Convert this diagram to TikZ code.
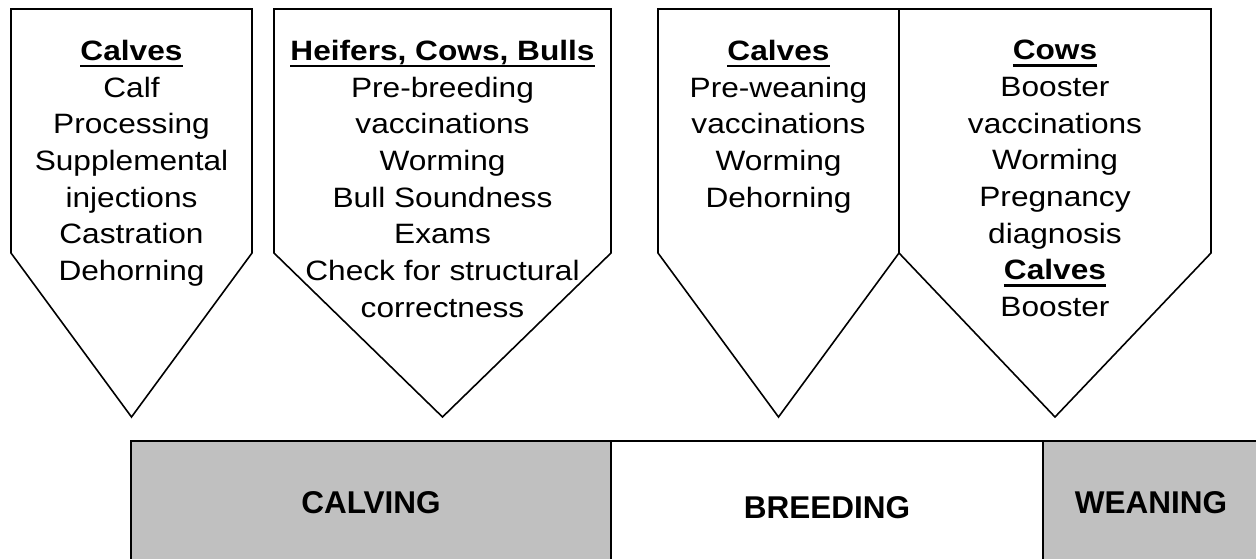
\documentclass[tikz,border=0pt]{standalone}
\usepackage{fontspec}
\setmainfont{Liberation Sans}
\newfontfamily\boxfont{Liberation Sans}[FakeStretch=1.13]
\usetikzlibrary{positioning}
\definecolor{phasegray}{RGB}{192,192,192}

\tikzset{
  pentline/.style={line width=1.6pt, line join=miter},
  tasktext/.style={font=\boxfont\fontsize{28}{36.7}\selectfont, align=center, anchor=north, inner sep=0pt},
  phaselabel/.style={font=\bfseries\fontsize{31.5}{36}\selectfont, anchor=base, inner sep=0pt},
}
% bold heading with a heavy underline
\newcommand{\hdr}[1]{{\bfseries\sbox0{#1}\rlap{\rule[-7pt]{\wd0}{2.6pt}}\usebox0}}

\begin{document}
\begin{tikzpicture}[x=1pt, y=-1pt]
    \useasboundingbox (0,0) rectangle (1256,559);

    % 1. PHASE BAR (cut off at the page edge)
    \fill[phasegray] (131,441) rectangle (611,620);
    \fill[phasegray] (1043,441) rectangle (1280,620);
    \draw[line width=1.6pt] (131,620) -- (131,441) -- (1280,441);
    \draw[line width=1.6pt] (611,441) -- (611,620);
    \draw[line width=1.6pt] (1043,441) -- (1043,620);

    \node[phaselabel] (calving) at (371,513) {CALVING};
    \node[phaselabel] (breeding) at (827,518) {BREEDING};
    \node[phaselabel] (weaning) at (1151,513) {WEANING};

    % 2. POINTED BOXES
    \foreach \l/\r in {11/252, 274/611, 658/899, 899/1211} {
        \pgfmathsetmacro{\c}{(\l+\r)/2}
        \draw[pentline] (\l,9) -- (\r,9) -- (\r,253) -- (\c,417) -- (\l,253) -- cycle;
    }

    % 3. TASK LISTS
    \node[tasktext] (calftasks) at (131.5,40)
        {\hdr{Calves}\\ Calf\\ Processing\\ Supplemental\\ injections\\ Castration\\ Dehorning};
    \node[tasktext] (herdtasks) at (442.5,40)
        {\hdr{Heifers, Cows, Bulls}\\ Pre-breeding\\ vaccinations\\ Worming\\ Bull Soundness\\ Exams\\ Check for structural\\ correctness};
    \node[tasktext] (weantasks) at (778.5,40)
        {\hdr{Calves}\\ Pre-weaning\\ vaccinations\\ Worming\\ Dehorning};
    \node[tasktext] (cowtasks) at (1055,40)
        {\hdr{Cows}\\ Booster\\ vaccinations\\ Worming\\ Pregnancy\\ diagnosis\\ \hdr{Calves}\\ Booster};

\end{tikzpicture}
\end{document}
